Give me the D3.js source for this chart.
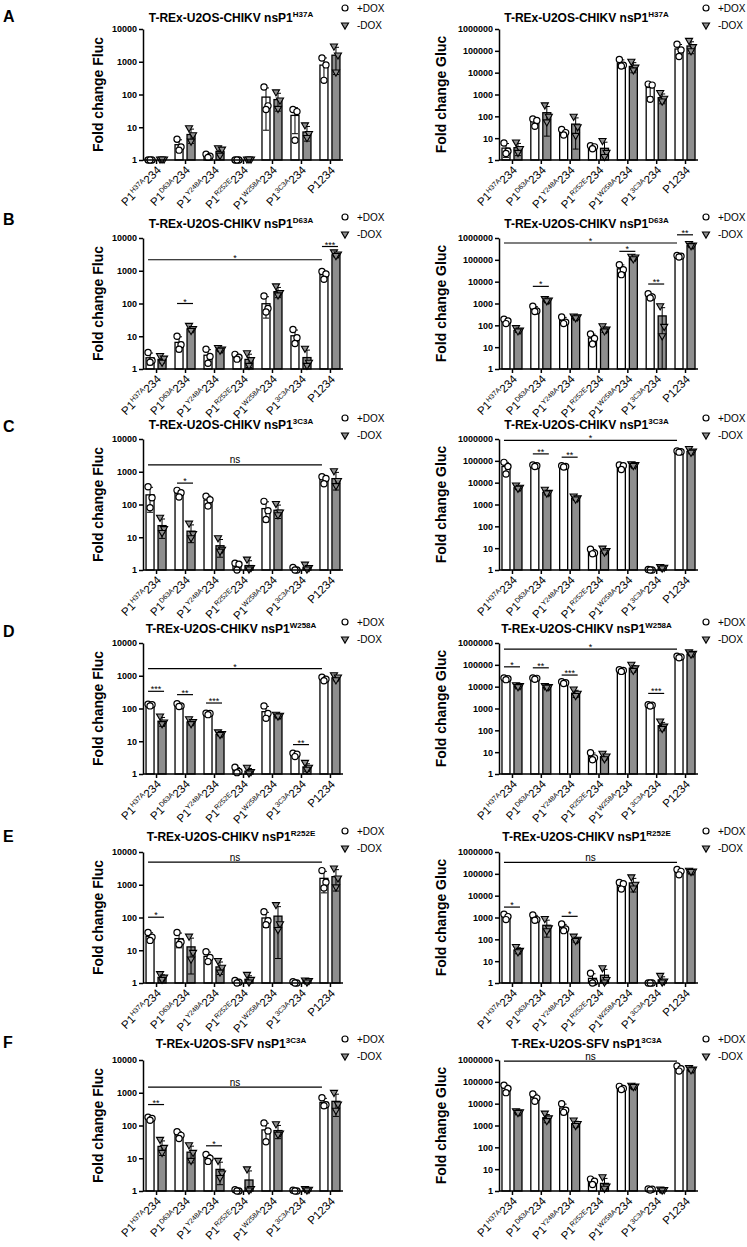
<!DOCTYPE html>
<html lang="en">
<head>
<meta charset="UTF-8">
<title>nsP1 mutants - fold change Fluc / Gluc</title>
<script src="https://d3js.org/d3.v7.min.js"></script>
<style>
  body { margin: 0; background: #fff; }
  svg { font-family: "Liberation Sans", Arial, sans-serif; display: block; }
</style>
</head>
<body>
<div id="chart"></div>
<script>
// categories on x axis (P1<sup>mut</sup>234, last one is plain P1234)
const categories = ["H37A", "D63A", "Y248A", "R252E", "W258A", "3C3A", "P1234"];
const panelLetters = ["A", "B", "C", "D", "E", "F"];
const titleVirus = ["CHIKV", "CHIKV", "CHIKV", "CHIKV", "CHIKV", "SFV"];
const titleMutant = ["H37A", "D63A", "3C3A", "W258A", "R252E", "3C3A"];
const flucTicks = [1, 10, 100, 1000, 10000];
const glucTicks = [1, 10, 100, 1000, 10000, 100000, 1000000];

// replicate values (3 per category), +DOX and -DOX
const flucA_plus  = [[1,1,1],[4.3,2.5,2.0],[1.5,1.3,1.2],[1,1,1],[170,45,35],[35,30,4],[1300,800,270]];
const flucA_minus = [[1,1,1],[9,5.5,3.5],[2.2,2.0,1.3],[1,1,1],[112,63,35],[11,6,4.5],[2800,1500,450]];
const glucA_plus  = [[6,2.5,2.0],[75,65,35],[25,18,14],[4.5,4,3.3],[40000,22000,20000],[3000,2700,600],[200000,110000,55000]];
const glucA_minus = [[6,3,2],[300,90,50],[90,30,12],[7,2,1.3],[30000,16000,12000],[1100,600,450],[270000,140000,90000]];

const flucB_plus  = [[3.2,1.8,1.6],[10,5.5,4],[4,2.4,1.5],[2.8,2.3,2.0],[170,70,55],[16,9,6],[950,800,550]];
const flucB_minus = [[2.4,2.0,1.5],[20,16,14],[4.2,3.8,3.5],[2.9,1.8,1.2],[320,200,170],[4,1.5,1.2],[3500,3000,2700]];
const glucB_plus  = [[190,160,120],[750,450,430],[240,140,120],[40,25,14],[60000,35000,21000],[2800,2000,1800],[160000,145000,135000]];
const glucB_minus = [[70,55,50],[1500,1300,1200],[240,220,200],[85,60,50],[130000,120000,100000],[700,80,30],[500000,430000,400000]];

const flucC_plus  = [[350,160,80],[270,230,170],[180,140,90],[1.6,1.5,1.0],[125,65,35],[1.2,1.0,1.0],[700,620,430]];
const flucC_minus = [[38,17,13],[25,12,9],[9,4,3.5],[2.0,1.1,1.0],[100,55,45],[1.4,1.1,1.0],[1000,500,350]];
const glucC_plus  = [[85000,55000,25000],[65000,60000,55000],[60000,55000,52000],[9,6,5.5],[65000,60000,40000],[1.05,1.0,1.0],[280000,260000,250000]];
const glucC_minus = [[7000,5500,5000],[4500,3200,3000],[2200,1800,1600],[9,7,6],[65000,60000,55000],[1.3,1.2,1.1],[330000,250000,220000]];

const flucD_plus  = [[135,130,120],[140,120,115],[72,70,65],[1.6,1.2,1.1],[120,70,50],[4.3,4.0,3.4],[900,780,700]];
const flucD_minus = [[55,36,32],[45,37,32],[18,16,15],[1.5,1.1,1.0],[62,58,55],[2.1,1.5,1.3],[1000,850,700]];
const glucD_plus  = [[25000,23000,21000],[25000,24000,22000],[17000,15000,14000],[9.5,5.5,4.5],[60000,55000,50000],[1500,1400,1300],[250000,230000,210000]];
const glucD_minus = [[11000,10000,9000],[10000,9000,8500],[7000,4500,3500],[8,6,4.5],[95000,65000,50000],[240,140,110],[350000,300000,280000]];

const flucE_plus  = [[35,25,20],[35,18,15],[9,6,4.5],[1.2,1.05,1.0],[150,80,60],[1.1,1.0,1.0],[2700,1200,800]];
const flucE_minus = [[1.8,1.4,1.2],[25,8,5],[4.5,2.8,2.0],[1.7,1.2,1.0],[230,60,40],[1.15,1.1,1.0],[3000,1500,800]];
const glucE_plus  = [[1400,1100,800],[1300,800,750],[500,300,250],[2.8,1.1,1.0],[40000,35000,20000],[1,1,1],[160000,130000,90000]];
const glucE_minus = [[42,28,24],[800,300,220],[125,90,80],[4.5,1.3,1.0],[65000,30000,20000],[2.0,1.1,1.0],[130000,120000,115000]];

const flucF_plus  = [[180,165,145],[65,50,40],[13,10,8],[1.1,1.0,1.0],[120,68,32],[1.05,1.0,1.0],[700,430,400]];
const flucF_minus = [[35,20,14],[24,14,8],[8,3.3,2.4],[4.4,1.1,1.0],[105,55,50],[1.1,1.05,1.0],[950,420,270]];
const glucF_plus  = [[70000,50000,32000],[28000,18000,13000],[10000,5000,4000],[3.5,2.8,2.0],[62000,50000,44000],[1.25,1.2,1.1],[530000,400000,310000]];
const glucF_minus = [[4200,3800,3500],[3300,2000,1500],[1600,1100,900],[4,1.5,1.2],[62000,58000,55000],[1.1,1.05,1.0],[400000,340000,320000]];

// significance brackets: from/to category index, height (data units), label
const sigA_fluc = [];
const sigA_gluc = [];
const sigB_fluc = [{from:0,to:6,y:2170,label:"*"},{from:1,to:1,y:100,label:"*"},{from:6,to:6,y:5500,label:"***"}];
const sigB_gluc = [{from:0,to:6,y:590000,label:"*"},{from:1,to:1,y:6100,label:"*"},{from:4,to:4,y:245000,label:"*"},{from:5,to:5,y:7800,label:"**"},{from:6,to:6,y:1400000,label:"**"}];
const sigC_fluc = [{from:0,to:6,y:1630,label:"ns"},{from:1,to:1,y:450,label:"*"}];
const sigC_gluc = [{from:0,to:6,y:870000,label:"*"},{from:1,to:1,y:208000,label:"**"},{from:2,to:2,y:147000,label:"**"}];
const sigD_fluc = [{from:0,to:6,y:1650,label:"*"},{from:0,to:0,y:335,label:"***"},{from:1,to:1,y:265,label:"**"},{from:2,to:2,y:147,label:"***"},{from:5,to:5,y:7.9,label:"**"}];
const sigD_gluc = [{from:0,to:6,y:520000,label:"*"},{from:0,to:0,y:81000,label:"*"},{from:1,to:1,y:73000,label:"**"},{from:2,to:2,y:34000,label:"***"},{from:5,to:5,y:4900,label:"***"}];
const sigE_fluc = [{from:0,to:6,y:4900,label:"ns"},{from:0,to:0,y:102,label:"*"}];
const sigE_gluc = [{from:0,to:6,y:337000,label:"ns"},{from:0,to:0,y:3000,label:"*"},{from:2,to:2,y:1130,label:"*"}];
const sigF_fluc = [{from:0,to:6,y:1490,label:"ns"},{from:0,to:0,y:436,label:"**"},{from:2,to:2,y:24,label:"*"}];
const sigF_gluc = [{from:0,to:6,y:890000,label:"ns"}];

const flucData = [[flucA_plus,flucA_minus,sigA_fluc],[flucB_plus,flucB_minus,sigB_fluc],[flucC_plus,flucC_minus,sigC_fluc],
                  [flucD_plus,flucD_minus,sigD_fluc],[flucE_plus,flucE_minus,sigE_fluc],[flucF_plus,flucF_minus,sigF_fluc]];
const glucData = [[glucA_plus,glucA_minus,sigA_gluc],[glucB_plus,glucB_minus,sigB_gluc],[glucC_plus,glucC_minus,sigC_gluc],
                  [glucD_plus,glucD_minus,sigD_gluc],[glucE_plus,glucE_minus,sigE_gluc],[glucF_plus,glucF_minus,sigF_gluc]];

// layout
const W = 747, H = 1247;
const rowTop = [29, 238, 439, 643, 852, 1060];
const letterY = [22, 225, 432, 637, 842, 1048];
const titleY = [22, 228, 429, 633, 841, 1048];
const plotH = 131;
const colX = [[143, 343], [499, 698]];
const labelX = [103, 446];
const legendX = [345, 706];
const barW = 8, barOff = 6;
const grayFill = "#8e8e8e";
const jitter = [-2, 2, 0];

const svg = d3.select("#chart").append("svg").attr("width", W).attr("height", H);

const tri = d3.symbol(d3.symbolTriangle, 22);

function drawPanel(col, r, ticks, yLabel, plus, minus, sig) {
    const [x0, x1] = colX[col];
    const top = rowTop[r], bottom = top + plotH;
    const x = d3.scalePoint().domain(categories).range([x0, x1]).padding(0.45);
    const y = d3.scaleLog().domain([1, d3.max(ticks)]).range([bottom, top]);
    const g = svg.append("g");

    const series = [
        {vals: plus, dx: -barOff, fill: "#fff", shape: "circle"},
        {vals: minus, dx: barOff, fill: grayFill, shape: "tri"}
    ];

    series.forEach(s => {
        const stats = s.vals.map((v, i) => ({
            cat: categories[i], pts: v, mean: d3.mean(v), sd: d3.deviation(v) || 0
        }));
        g.append("g").selectAll("rect").data(stats).join("rect")
            .attr("x", d => x(d.cat) + s.dx - barW / 2)
            .attr("y", d => y(d.mean))
            .attr("width", barW)
            .attr("height", d => bottom - y(d.mean))
            .attr("fill", s.fill)
            .attr("stroke", "#000")
            .attr("stroke-width", 1.3);

        // error bars (mean +/- SD)
        const eb = g.append("g").attr("stroke", "#000").attr("stroke-width", 1);
        stats.filter(d => d.sd > 0).forEach(d => {
            const cx = x(d.cat) + s.dx;
            const yHi = y(d.mean + d.sd);
            const lo = d.mean - d.sd;
            const yLo = lo > 1 ? y(lo) : bottom;
            eb.append("line").attr("x1", cx).attr("x2", cx).attr("y1", yHi).attr("y2", yLo);
            eb.append("line").attr("x1", cx - 3).attr("x2", cx + 3).attr("y1", yHi).attr("y2", yHi);
            if (lo > 1) eb.append("line").attr("x1", cx - 3).attr("x2", cx + 3).attr("y1", yLo).attr("y2", yLo);
        });

        // replicate points
        const pts = stats.flatMap(d => d.pts.map((v, j) => ({cx: x(d.cat) + s.dx + jitter[j], v})));
        if (s.shape === "circle") {
            g.append("g").selectAll("circle").data(pts).join("circle")
                .attr("cx", d => d.cx).attr("cy", d => y(d.v)).attr("r", 3.1)
                .attr("fill", "#fff").attr("stroke", "#000").attr("stroke-width", 1.2);
        } else {
            g.append("g").selectAll("path").data(pts).join("path")
                .attr("d", tri)
                .attr("transform", d => `translate(${d.cx},${y(d.v) - 1}) rotate(180)`)
                .attr("fill", grayFill).attr("stroke", "#000").attr("stroke-width", 1.1);
        }
    });

    // axes
    const yAxis = g.append("g").attr("transform", `translate(${x0},0)`)
        .call(d3.axisLeft(y).tickValues(ticks).tickFormat(d3.format("d")).tickSize(4).tickSizeOuter(0).tickPadding(2));
    yAxis.attr("font-family", null).attr("font-size", null);
    yAxis.selectAll("text").attr("font-size", 9).attr("font-weight", "bold").attr("fill", "#000");
    yAxis.selectAll("path, line").attr("stroke-width", 1.5);

    const xAxis = g.append("g").attr("transform", `translate(0,${bottom})`)
        .call(d3.axisBottom(x).tickSize(4).tickSizeOuter(0).tickFormat(""));
    xAxis.select(".domain").attr("d", `M${x0},0H${x1}`);
    xAxis.selectAll("path, line").attr("stroke-width", 1.5);

    // rotated category labels with superscripts
    categories.forEach(c => {
        const t = g.append("text")
            .attr("transform", `translate(${x(c) + 3},${bottom + 8}) rotate(-45)`)
            .attr("text-anchor", "end")
            .attr("font-size", 11.5)
            .attr("fill", "#000")
            .attr("dy", "0.35em");
        if (c === "P1234") {
            t.text("P1234");
        } else {
            t.append("tspan").text("P1");
            t.append("tspan").attr("font-size", 7).attr("dy", -4.5).text(c);
            t.append("tspan").attr("dy", 4.5).text("234");
        }
    });

    // y label
    g.append("text")
        .attr("transform", `translate(${labelX[col]},${top + plotH / 2}) rotate(-90)`)
        .attr("text-anchor", "middle")
        .attr("font-size", 14).attr("font-weight", "bold")
        .text(yLabel);

    // title
    const title = g.append("text")
        .attr("x", (x0 + x1) / 2 - 12).attr("y", titleY[r])
        .attr("text-anchor", "middle")
        .attr("font-size", 12).attr("font-weight", "bold");
    title.append("tspan").text(`T-REx-U2OS-${titleVirus[r]} nsP1`);
    title.append("tspan").attr("font-size", 8).attr("dy", -5).text(titleMutant[r]);

    // legend
    const lx = legendX[col];
    g.append("circle").attr("cx", lx).attr("cy", top - 21).attr("r", 3)
        .attr("fill", "#fff").attr("stroke", "#000").attr("stroke-width", 1.2);
    g.append("path").attr("d", tri).attr("transform", `translate(${lx},${top - 4}) rotate(180)`)
        .attr("fill", grayFill).attr("stroke", "#000").attr("stroke-width", 1.1);
    g.append("text").attr("x", lx + 12).attr("y", top - 17.5).attr("font-size", 10).text("+DOX");
    g.append("text").attr("x", lx + 12).attr("y", top - 0.5).attr("font-size", 10).text("-DOX");

    // significance lines
    sig.forEach(s => {
        const long = s.from !== s.to;
        const xa = x(categories[s.from]) - 8;
        const xb = long ? x(categories[s.to]) - 8 : x(categories[s.to]) + 8;
        const yy = y(s.y);
        g.append("line").attr("x1", xa).attr("x2", xb).attr("y1", yy).attr("y2", yy)
            .attr("stroke", "#000").attr("stroke-width", 1.2);
        g.append("text").attr("x", (xa + xb) / 2)
            .attr("y", s.label === "ns" ? yy - 1.5 : yy + 1)
            .attr("text-anchor", "middle")
            .attr("font-size", s.label === "ns" ? 10 : 9)
            .text(s.label);
    });
}

panelLetters.forEach((L, r) => {
    svg.append("text").attr("x", 3).attr("y", letterY[r])
        .attr("font-size", 16).attr("font-weight", "bold").text(L);
    drawPanel(0, r, flucTicks, "Fold change Fluc", flucData[r][0], flucData[r][1], flucData[r][2]);
    drawPanel(1, r, glucTicks, "Fold change Gluc", glucData[r][0], glucData[r][1], glucData[r][2]);
});
</script>
</body>
</html>
